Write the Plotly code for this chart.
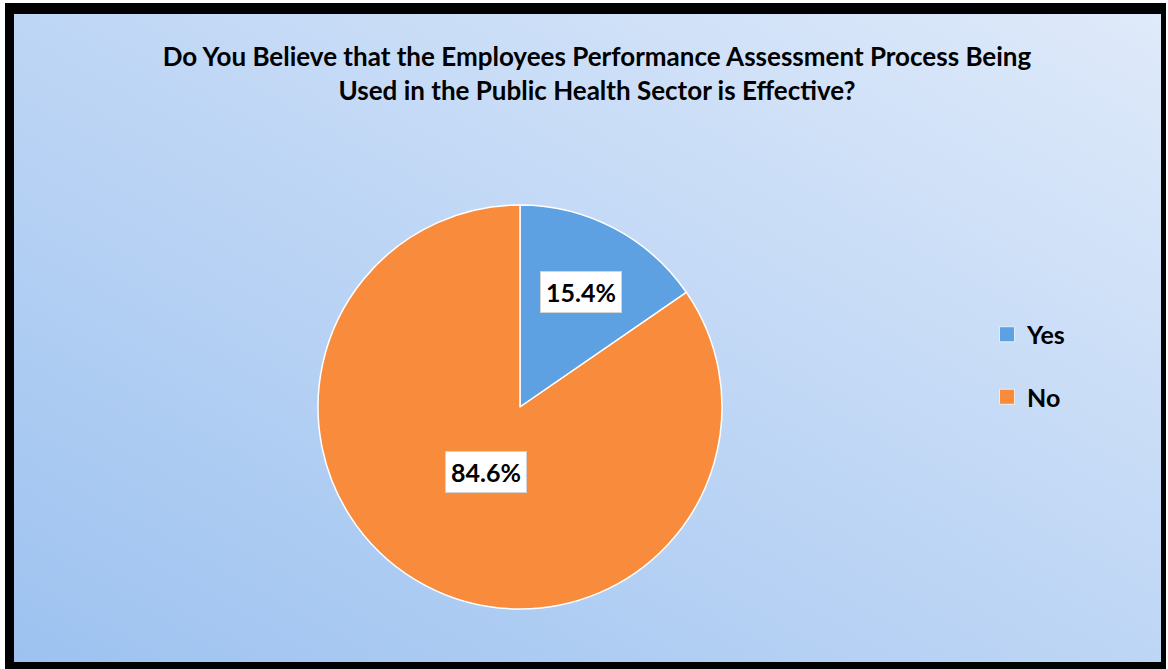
import base64
import math
import plotly.graph_objects as go

# Survey answers and their shares (percent)
labels = ["Yes", "No"]
values = [15.4, 84.6]
colors = ["#5da1e2", "#f98b3c"]
label_radius = [0.645, 0.365]   # radial placement of the value boxes (fraction of radius)

title_text = ("Do You Believe that the Employees Performance Assessment Process Being"
              "<br>Used in the Public Health Sector is Effective?")

W, H = 1168, 669
FONT = "Lato"

# Background: white margin, black frame and a diagonal blue gradient
svg = f"""<svg xmlns='http://www.w3.org/2000/svg' width='{W}' height='{H}' viewBox='0 0 {W} {H}'>
<defs><linearGradient id='g' x1='0' y1='1' x2='1' y2='0'>
<stop offset='0' stop-color='#9dc2f0'/><stop offset='1' stop-color='#dfeafa'/>
</linearGradient></defs>
<rect x='0' y='0' width='{W}' height='{H}' fill='white'/>
<rect x='5' y='3' width='1161' height='666' fill='black'/>
<rect x='14' y='14' width='1147' height='648' fill='url(#g)'/>
</svg>"""
bg_src = "data:image/svg+xml;base64," + base64.b64encode(svg.encode()).decode()

# Pie geometry in pixels
cx, cy, R = 520, 407, 202
dom_x = [(cx - R) / W, (cx + R) / W]
dom_y = [1 - (cy + R) / H, 1 - (cy - R) / H]

fig = go.Figure()
fig.add_trace(go.Pie(
    labels=labels, values=values, sort=False, direction="clockwise", rotation=0,
    marker=dict(colors=colors, line=dict(color="white", width=1.5)),
    textinfo="none", hoverinfo="label+percent", showlegend=False,
    domain=dict(x=dom_x, y=dom_y),
))

# Legend entries drawn as marker-only traces so their spacing can be set
for lab, col in zip(labels, colors):
    fig.add_trace(go.Scatter(
        x=[None], y=[None], mode="markers", name=lab, legendgroup=lab,
        marker=dict(symbol="square", size=15, color=col,
                    line=dict(color="rgba(255,255,255,0.7)", width=1)),
    ))

# Value boxes placed at each slice's mid-angle
total = sum(values)
cum = 0.0
for val, rf in zip(values, label_radius):
    mid = (cum + val / 2) / total * 2 * math.pi
    cum += val
    px = cx + rf * R * math.sin(mid)
    py = cy - rf * R * math.cos(mid)
    fig.add_annotation(
        x=px / W, y=1 - py / H, xref="paper", yref="paper",
        xanchor="center", yanchor="middle",
        text=f"<b>{val / total * 100:.1f}%</b>", showarrow=False,
        font=dict(family=FONT, size=25, color="black"),
        bgcolor="white", bordercolor="#d4d4d4", borderwidth=1, borderpad=5,
    )

fig.update_layout(
    width=W, height=H,
    margin=dict(l=0, r=0, t=0, b=0),
    paper_bgcolor="white", plot_bgcolor="rgba(0,0,0,0)",
    images=[dict(source=bg_src, xref="paper", yref="paper", x=0, y=1,
                 sizex=1, sizey=1, sizing="stretch", layer="below")],
    title=dict(text=f"<b>{title_text}</b>", x=597 / W, xanchor="center",
               y=1 - 66 / H, yanchor="middle", yref="paper",
               font=dict(family=FONT, size=26, color="black")),
    xaxis=dict(visible=False), yaxis=dict(visible=False),
    legend=dict(x=987 / W, xanchor="left", y=1 - 365.5 / H, yanchor="middle",
                font=dict(family=FONT, size=25, color="black", weight="bold"),
                bgcolor="rgba(0,0,0,0)", tracegroupgap=27),
    showlegend=True,
)

fig.write_html("out.html")
